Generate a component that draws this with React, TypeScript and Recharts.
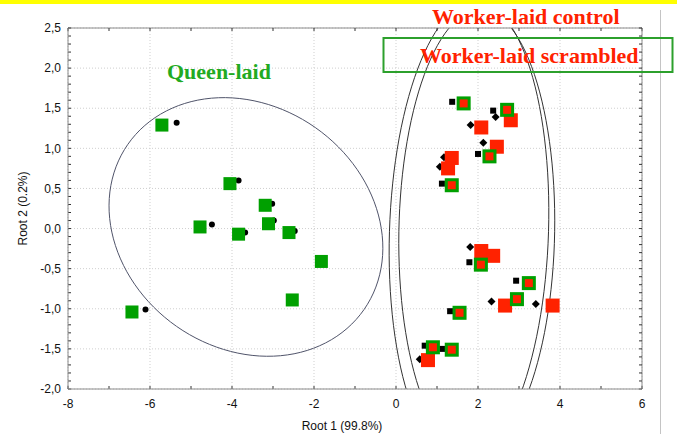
import React from 'react';
import { ScatterChart, Scatter, XAxis, YAxis, CartesianGrid, ReferenceArea } from 'recharts';

// Root 1 / Root 2 scores
const queenLaid = [
  { x: -5.71, y: 1.29 }, { x: -4.05, y: 0.56 }, { x: -3.19, y: 0.29 }, { x: -3.11, y: 0.06 },
  { x: -4.78, y: 0.02 }, { x: -3.84, y: -0.07 }, { x: -2.61, y: -0.05 }, { x: -1.82, y: -0.41 },
  { x: -2.53, y: -0.89 }, { x: -6.44, y: -1.04 },
];
const queenDots = [
  { x: -5.35, y: 1.32 }, { x: -3.84, y: 0.6 }, { x: -3.02, y: 0.31 }, { x: -2.98, y: 0.1 },
  { x: -4.49, y: 0.05 }, { x: -3.68, y: -0.05 }, { x: -2.47, y: -0.03 }, { x: -6.11, y: -1.01 },
];
const workerControl = [
  { x: 2.8, y: 1.35 }, { x: 2.08, y: 1.26 }, { x: 2.46, y: 1.02 }, { x: 1.36, y: 0.88 },
  { x: 1.27, y: 0.75 }, { x: 2.08, y: -0.28 }, { x: 2.37, y: -0.34 }, { x: 2.66, y: -0.96 },
  { x: 3.82, y: -0.96 }, { x: 0.78, y: -1.64 },
];
const controlDiamonds = [
  { x: 2.43, y: 1.39 }, { x: 1.82, y: 1.29 }, { x: 2.13, y: 1.07 }, { x: 1.17, y: 0.89 },
  { x: 1.07, y: 0.77 }, { x: 1.81, y: -0.23 }, { x: 2.33, y: -0.91 }, { x: 3.41, y: -0.94 },
  { x: 0.58, y: -1.63 },
];
const workerScrambled = [
  { x: 1.65, y: 1.56 }, { x: 2.71, y: 1.48 }, { x: 2.28, y: 0.9 }, { x: 1.36, y: 0.54 },
  { x: 2.07, y: -0.45 }, { x: 3.24, y: -0.68 }, { x: 2.95, y: -0.88 }, { x: 1.55, y: -1.05 },
  { x: 0.9, y: -1.48 }, { x: 1.36, y: -1.51 },
];
const scrambledSquares = [
  { x: 1.37, y: 1.58 }, { x: 2.37, y: 1.47 }, { x: 2.0, y: 0.93 }, { x: 1.12, y: 0.56 },
  { x: 1.79, y: -0.42 }, { x: 2.93, y: -0.65 }, { x: 1.32, y: -1.03 }, { x: 0.7, y: -1.46 },
  { x: 1.13, y: -1.5 },
];

// confidence ellipses: centre and two conjugate semi-axes, in data units
const ellipses = [
  { cx: -3.66, cy: 0.02, u: [2.88, -1.03], v: [-1.69, -1.24], color: '#50546a' },
  { cx: 1.78, cy: -0.04, u: [1.94, 0], v: [0.17, 2.87], color: '#333' },
  { cx: 1.97, cy: -0.04, u: [1.9, 0], v: [0.09, 2.77], color: '#333' },
];

const xTicks = [-8, -6, -4, -2, 0, 2, 4, 6];
const xMinorTicks = [-8, -7, -6, -5, -4, -3, -2, -1, 0, 1, 2, 3, 4, 5, 6];
const yTicks = [-2, -1.5, -1, -0.5, 0, 0.5, 1, 1.5, 2, 2.5];
const yMinorTicks: number[] = [];
for (let i = -20; i <= 25; i++) yMinorTicks.push(i / 10);

const X_DOMAIN: [number, number] = [-8, 6];
const Y_DOMAIN: [number, number] = [-2, 2.5];

const GREEN = '#00a000';
const RED = '#ff2200';
const AXIS = '#8c8c8c';
const tickFont = { fontSize: 12, fill: '#111', fontFamily: 'Liberation Sans, Arial, sans-serif' };

const fmtY = (v: number) => v.toFixed(1).replace('.', ',');
const noLabel = () => <g />;

const squareShape = (size: number, fill: string) => (p: any) => (
  <rect x={p.cx - size / 2} y={p.cy - size / 2} width={size} height={size} fill={fill} />
);
const borderedShape = (p: any) => (
  <g>
    <rect x={p.cx - 7} y={p.cy - 7} width={14} height={14} fill={GREEN} />
    <rect x={p.cx - 4} y={p.cy - 4} width={8} height={8} fill={RED} />
  </g>
);
const dotShape = (p: any) => <circle cx={p.cx} cy={p.cy} r={3} fill="#000" />;
const diamondShape = (p: any) => (
  <path d={`M${p.cx},${p.cy - 4}L${p.cx + 4},${p.cy}L${p.cx},${p.cy + 4}L${p.cx - 4},${p.cy}Z`} fill="#000" />
);

// full-domain area: defines the plot clip region
const clipShape = (p: any) => (
  <defs>
    <clipPath id="plot-clip">
      <rect x={p.x} y={p.y} width={p.width} height={p.height} />
    </clipPath>
  </defs>
);

// the area spans two units each way, so it gives pixels per unit from the chart's scales
const ellipseShape = (e: typeof ellipses[number]) => (p: any) => {
  const kx = Math.abs(p.width) / 2;
  const ky = Math.abs(p.height) / 2;
  const ox = p.x + p.width / 2;
  const oy = p.y + p.height / 2;
  let d = '';
  for (let i = 0; i <= 120; i++) {
    const t = (i / 120) * Math.PI * 2;
    const px = ox + (e.u[0] * Math.cos(t) + e.v[0] * Math.sin(t)) * kx;
    const py = oy - (e.u[1] * Math.cos(t) + e.v[1] * Math.sin(t)) * ky;
    d += (i ? 'L' : 'M') + px.toFixed(2) + ',' + py.toFixed(2);
  }
  return <path d={d + 'Z'} fill="none" stroke={e.color} strokeWidth={1} clipPath="url(#plot-clip)" />;
};

export default function App() {
  return (
    <div style={{ position: 'absolute', left: 0, top: 0, width: 677, height: 434, background: '#fff', overflow: 'hidden' }}>
      <div style={{ position: 'absolute', left: 0, top: 0, width: 677, height: 4, background: '#ffff00' }} />
      <div style={{ position: 'absolute', left: 660, top: 10, width: 1, height: 424, background: '#c4c4c4' }} />
      <ScatterChart width={677} height={434} margin={{ top: 28, right: 35, bottom: 0, left: 8 }}>
        {/* frame axes (top/right) and inward minor ticks; same domains as the main axes */}
        <XAxis xAxisId="top" orientation="top" mirror type="number" dataKey="x" domain={X_DOMAIN} ticks={xMinorTicks}
          interval={0} tick={noLabel} tickSize={3} height={1} axisLine={{ stroke: AXIS }} tickLine={{ stroke: '#333' }} />
        <XAxis xAxisId="bottomMinor" orientation="bottom" mirror type="number" dataKey="x" domain={X_DOMAIN} ticks={xMinorTicks}
          interval={0} tick={noLabel} tickSize={3} height={1} axisLine={false} tickLine={{ stroke: '#333' }} />
        <YAxis yAxisId="leftMinor" orientation="left" mirror type="number" dataKey="y" domain={Y_DOMAIN} ticks={yMinorTicks}
          interval={0} tick={noLabel} tickSize={3} width={1} axisLine={false} tickLine={{ stroke: '#333' }} />
        <YAxis yAxisId="right" orientation="right" mirror type="number" dataKey="y" domain={Y_DOMAIN} ticks={yMinorTicks}
          interval={0} tick={noLabel} tickSize={3} width={1} axisLine={{ stroke: AXIS }} tickLine={{ stroke: '#333' }} />
        <CartesianGrid stroke="#cfcfcf" strokeDasharray="1 2" />
        <XAxis type="number" dataKey="x" domain={X_DOMAIN} ticks={xTicks} height={45} interval={0}
          tick={tickFont} tickLine={false} tickSize={0} tickMargin={10} axisLine={{ stroke: AXIS }}
          label={{ value: 'Root 1 (99.8%)', position: 'insideBottom', offset: 4, dx: -13, style: { ...tickFont } }} />
        <YAxis type="number" dataKey="y" domain={Y_DOMAIN} ticks={yTicks} width={60} tickFormatter={fmtY} interval={0}
          tick={tickFont} tickLine={false} tickSize={0} tickMargin={7} axisLine={{ stroke: AXIS }}
          label={{ value: 'Root 2 (0.2%)', angle: -90, position: 'insideLeft', offset: 15, style: { ...tickFont, textAnchor: 'middle' } }} />
        <ReferenceArea x1={-8} x2={6} y1={-2} y2={2.5} shape={clipShape} />
        {ellipses.map((e, i) => (
          <ReferenceArea key={i} x1={e.cx - 1} x2={e.cx + 1} y1={e.cy - 1} y2={e.cy + 1}
            shape={ellipseShape(e)} />
        ))}
        <Scatter name="queen centroid" data={queenDots} xAxisId="top" yAxisId="leftMinor"
          shape={dotShape} isAnimationActive={false} />
        <Scatter name="control centroid" data={controlDiamonds} shape={diamondShape} isAnimationActive={false} />
        <Scatter name="scrambled centroid" data={scrambledSquares} xAxisId="bottomMinor" yAxisId="right"
          shape={squareShape(6, '#000')} isAnimationActive={false} />
        <Scatter name="Queen-laid" data={queenLaid} shape={squareShape(13, GREEN)} isAnimationActive={false} />
        <Scatter name="Worker-laid control" data={workerControl} shape={squareShape(14, RED)} isAnimationActive={false} />
        <Scatter name="Worker-laid scrambled" data={workerScrambled} shape={borderedShape} isAnimationActive={false} />
      </ScatterChart>
      <svg width={677} height={434} style={{ position: 'absolute', left: 0, top: 0, pointerEvents: 'none' }}>
        <g fontFamily="Liberation Serif, Times New Roman, serif" fontWeight="bold" fontSize={22}>
          <text x={432} y={24} fill={RED}>Worker-laid control</text>
          <rect x={383.5} y={38} width={289} height={34} fill="none" stroke="#2ca02c" strokeWidth={2} />
          <text x={420} y={63} fill={RED}>Worker-laid scrambled</text>
          <text x={167} y={79} fill="#22aa22">Queen-laid</text>
        </g>
      </svg>
    </div>
  );
}
